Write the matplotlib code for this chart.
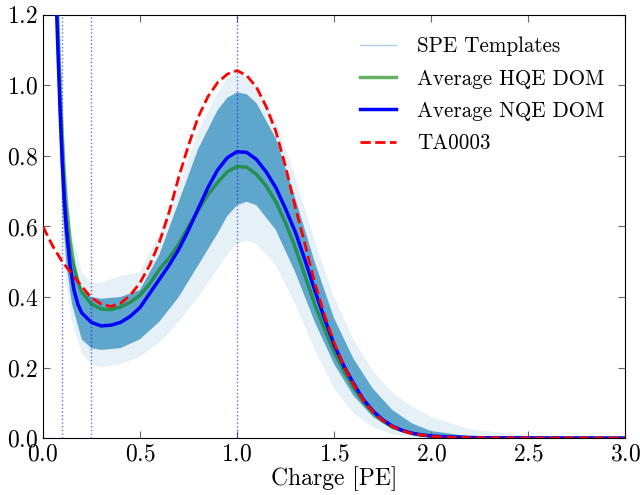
import matplotlib
matplotlib.use("Agg")
import matplotlib.pyplot as plt
from matplotlib.lines import Line2D

# charge grid the curves were read on [PE]
q = [0.07, 0.08, 0.09, 0.10, 0.11, 0.12, 0.14, 0.16, 0.18, 0.20,
     0.25, 0.30, 0.35, 0.40, 0.45, 0.50, 0.55, 0.60, 0.65, 0.70,
     0.75, 0.80, 0.85, 0.90, 0.95, 1.00, 1.05, 1.10, 1.15, 1.20,
     1.25, 1.30, 1.35, 1.40, 1.45, 1.50, 1.55, 1.60, 1.65, 1.70,
     1.75, 1.80, 1.85, 1.90, 1.95, 2.00, 2.10, 2.25, 2.50, 3.00]

avg_nqe = [1.22, 1.06, 0.91, 0.78, 0.68, 0.60, 0.49, 0.42, 0.38, 0.355,
           0.328, 0.318, 0.320, 0.328, 0.345, 0.370, 0.410, 0.450, 0.490, 0.535,
           0.590, 0.650, 0.710, 0.760, 0.795, 0.812, 0.810, 0.790, 0.755, 0.710,
           0.650, 0.585, 0.505, 0.420, 0.340, 0.265, 0.205, 0.155, 0.110, 0.077,
           0.052, 0.034, 0.022, 0.014, 0.009, 0.006, 0.003, 0.001, 0.0003, 0.0]

avg_hqe = [1.30, 1.14, 0.98, 0.85, 0.75, 0.67, 0.56, 0.49, 0.445, 0.415,
           0.380, 0.366, 0.364, 0.372, 0.385, 0.405, 0.437, 0.478, 0.510, 0.550,
           0.600, 0.645, 0.690, 0.725, 0.755, 0.770, 0.768, 0.748, 0.715, 0.670,
           0.610, 0.540, 0.460, 0.380, 0.310, 0.245, 0.190, 0.143, 0.103, 0.072,
           0.049, 0.032, 0.021, 0.013, 0.008, 0.005, 0.002, 0.0008, 0.0002, 0.0]

# TA0003 starts at zero charge
q_ta = [0.00, 0.05, 0.10, 0.15, 0.20, 0.25, 0.30, 0.35, 0.40, 0.45,
        0.50, 0.55, 0.60, 0.65, 0.70, 0.75, 0.80, 0.85, 0.90, 0.95,
        1.00, 1.05, 1.10, 1.15, 1.20, 1.25, 1.30, 1.35, 1.40, 1.45,
        1.50, 1.55, 1.60, 1.65, 1.70, 1.75, 1.80, 1.85, 1.90, 2.00,
        2.10, 2.25, 2.50, 3.00]
ta0003 = [0.600, 0.545, 0.500, 0.465, 0.430, 0.398, 0.380, 0.373, 0.382, 0.405,
          0.440, 0.490, 0.555, 0.640, 0.740, 0.830, 0.910, 0.968, 1.008, 1.032,
          1.042, 1.028, 0.995, 0.940, 0.870, 0.770, 0.655, 0.550, 0.440, 0.350,
          0.270, 0.205, 0.152, 0.108, 0.075, 0.050, 0.033, 0.021, 0.013, 0.005,
          0.002, 0.0007, 0.0001, 0.0]

# spread of the individual SPE templates (faint outer and dense inner envelopes)
q_band = [0.065, 0.08, 0.10, 0.12, 0.15, 0.20, 0.25, 0.30, 0.40, 0.50,
          0.60, 0.70, 0.80, 0.90, 0.95, 1.00, 1.05, 1.10, 1.20, 1.30,
          1.40, 1.50, 1.60, 1.70, 1.80, 1.90, 2.00, 2.20, 2.50, 3.00]
band_lo_out = [1.25, 0.90, 0.60, 0.44, 0.33, 0.24, 0.21, 0.20, 0.21, 0.23,
               0.27, 0.33, 0.40, 0.48, 0.52, 0.55, 0.56, 0.55, 0.49, 0.38,
               0.25, 0.14, 0.07, 0.03, 0.01, 0.003, 0.0, 0.0, 0.0, 0.0]
band_lo = [1.30, 0.95, 0.66, 0.50, 0.38, 0.28, 0.255, 0.25, 0.255, 0.28,
           0.33, 0.40, 0.49, 0.58, 0.63, 0.66, 0.67, 0.66, 0.59, 0.47,
           0.33, 0.21, 0.12, 0.06, 0.025, 0.01, 0.004, 0.0, 0.0, 0.0]
band_hi = [1.50, 1.20, 0.90, 0.68, 0.52, 0.42, 0.40, 0.395, 0.40, 0.42,
           0.52, 0.67, 0.82, 0.93, 0.965, 0.98, 0.975, 0.95, 0.85, 0.68,
           0.50, 0.34, 0.225, 0.14, 0.08, 0.042, 0.02, 0.005, 0.001, 0.0]
band_hi_out = [1.50, 1.30, 1.00, 0.75, 0.58, 0.47, 0.44, 0.44, 0.46, 0.47,
               0.58, 0.72, 0.87, 0.98, 1.02, 1.035, 1.03, 1.00, 0.90, 0.74,
               0.56, 0.40, 0.28, 0.19, 0.13, 0.09, 0.06, 0.025, 0.006, 0.0]

cut_lines = [0.1, 0.25, 1.0]

plt.rcParams['font.family'] = 'cmr10'
plt.rcParams['mathtext.fontset'] = 'cm'
plt.rcParams['axes.formatter.use_mathtext'] = True

fig = plt.figure(figsize=(6.4, 4.95), dpi=100)
ax = fig.add_axes([0.067, 0.115, 0.910, 0.855])

tcol = '#58a2cb'
ax.fill_between(q_band, band_lo_out, band_hi_out, color=tcol, alpha=0.15, lw=0, zorder=1)
ax.fill_between(q_band, band_lo, band_hi, color=tcol, alpha=0.95, lw=0, zorder=1)

for x in cut_lines:
    ax.axvline(x, color='b', ls=':', lw=1, alpha=0.6, zorder=2)

ax.plot(q, avg_hqe, color='g', alpha=0.6, lw=2.5, zorder=3)
ax.plot(q, avg_nqe, color='b', lw=2.5, zorder=4)
ax.plot(q_ta, ta0003, color='r', ls='--', lw=2, zorder=5)

handles = [Line2D([], [], color='#a9cfe5', lw=1),
           Line2D([], [], color='g', alpha=0.6, lw=2.5),
           Line2D([], [], color='b', lw=2.5),
           Line2D([], [], color='r', ls='--', lw=2)]
labels = ['SPE Templates', 'Average HQE DOM', 'Average NQE DOM', 'TA0003']
ax.legend(handles, labels, loc='upper right', bbox_to_anchor=(0.993, 0.988),
          frameon=False, fontsize=15.2, handlelength=1.7, handletextpad=1.0,
          labelspacing=0.6, borderaxespad=0.4)

ax.set_xlim(0, 3.0)
ax.set_ylim(0, 1.2)
ax.set_xticks([0.0, 0.5, 1.0, 1.5, 2.0, 2.5, 3.0])
ax.set_yticks([0.0, 0.2, 0.4, 0.6, 0.8, 1.0, 1.2])
ax.tick_params(direction='in', top=True, right=True, length=5, labelsize=17, color='0.4')
ax.set_xlabel('Charge [PE]', fontsize=17, labelpad=1)

fig.savefig('out.png', dpi=100)
